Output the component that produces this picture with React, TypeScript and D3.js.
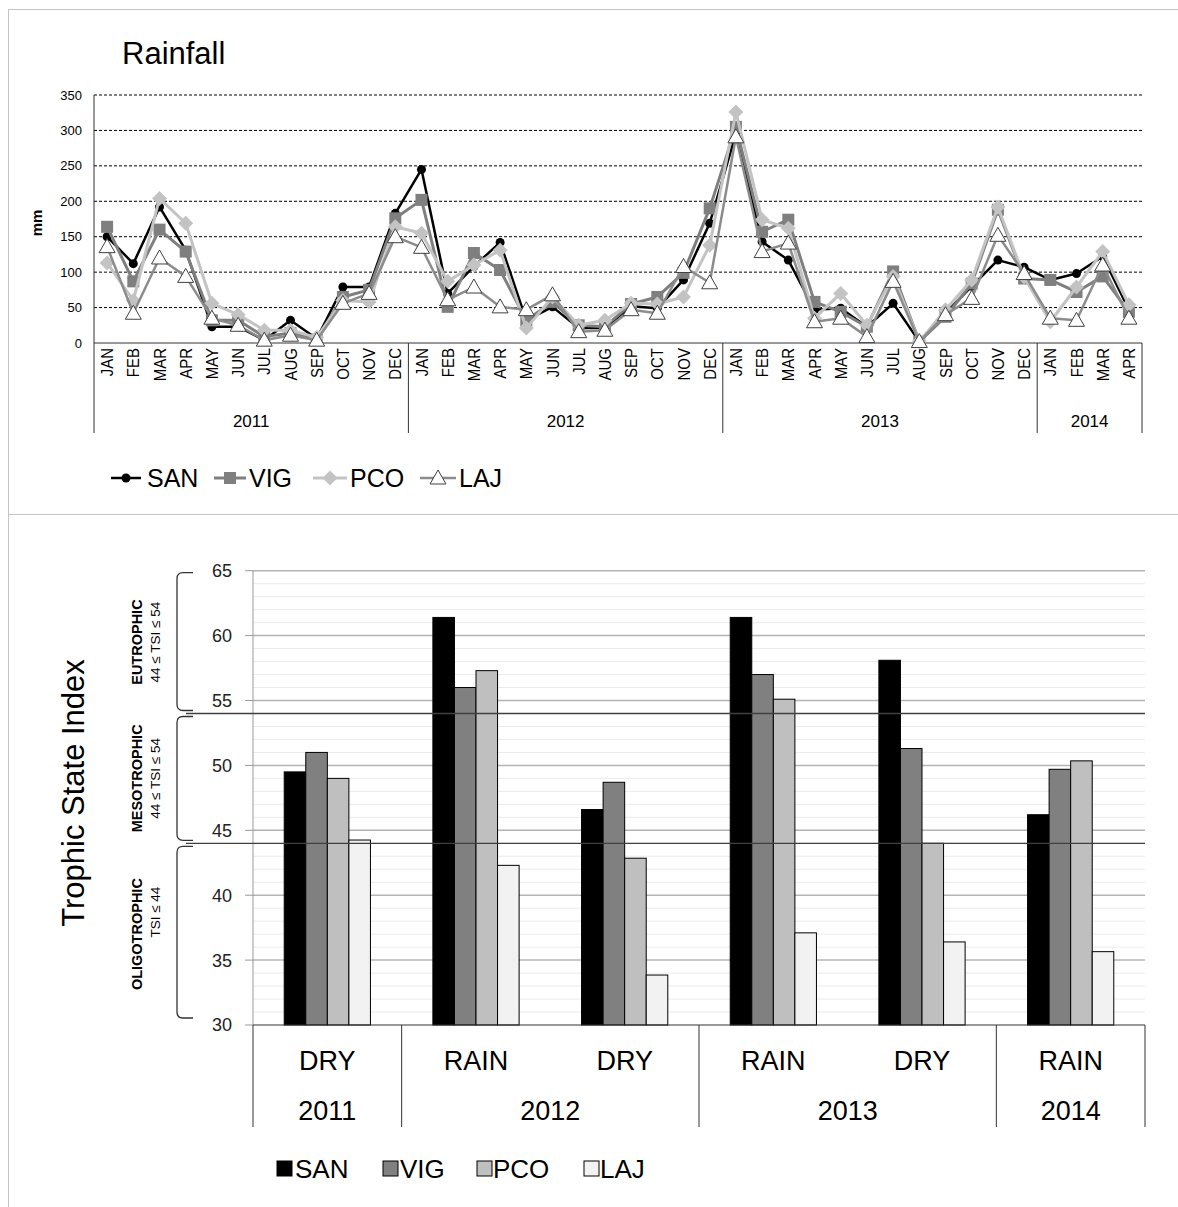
import React from "react";
import * as d3 from "d3";

// ---- Rainfall (monthly, mm) ----
const MONTHS = ["JAN", "FEB", "MAR", "APR", "MAY", "JUN", "JUL", "AUG", "SEP", "OCT", "NOV", "DEC"];
const RAIN_YEARS = ["2011", "2012", "2013", "2014"];
const MONTHS_PER_YEAR = [12, 12, 12, 4];
const RAIN_TICKS = [0, 50, 100, 150, 200, 250, 300, 350];

const SAN_RAIN = [150, 112, 192, 131, 23, 23, 4, 32, 6, 79, 79, 183,
  245, 70, 108, 142, 32, 51, 21, 21, 52, 49, 89, 169,
  295, 143, 117, 47, 49, 23, 56, 2, 42, 80, 117, 107,
  89, 98, 122, 47];
const VIG_RAIN = [164, 87, 160, 129, 32, 32, 9, 14, 5, 65, 75, 176,
  202, 51, 127, 103, 32, 58, 25, 23, 55, 65, 99, 190,
  305, 157, 174, 58, 44, 23, 101, 2, 37, 84, 188, 91,
  89, 72, 94, 44];
const PCO_RAIN = [113, 60, 204, 169, 56, 40, 18, 18, 8, 60, 58, 164,
  155, 87, 110, 131, 21, 65, 25, 32, 56, 55, 65, 138,
  326, 174, 162, 35, 70, 25, 94, 2, 47, 89, 192, 93,
  30, 79, 129, 54];
const LAJ_RAIN = [136, 42, 120, 94, 35, 25, 4, 11, 4, 56, 70, 150,
  135, 61, 79, 51, 47, 68, 16, 18, 47, 42, 108, 85,
  291, 129, 141, 30, 35, 9, 87, 2, 40, 63, 152, 98,
  35, 32, 110, 35];

// ---- Trophic State Index by campaign ----
const SEASONS = ["DRY", "RAIN", "DRY", "RAIN", "DRY", "RAIN"];
const TSI_YEARS = ["2011", "2012", "2013", "2014"];
const SEASONS_PER_YEAR = [1, 2, 2, 1];
const SAN_TSI = [49.5, 61.4, 46.6, 61.4, 58.1, 46.2];
const VIG_TSI = [51.0, 56.0, 48.7, 57.0, 51.3, 49.7];
const PCO_TSI = [49.0, 57.3, 42.85, 55.1, 44.0, 50.35];
const LAJ_TSI = [44.25, 42.3, 33.85, 37.1, 36.4, 35.65];
const TSI_TICKS = [30, 35, 40, 45, 50, 55, 60, 65];
const TSI_LIMITS = [44, 54];
const STATE_CLASSES = [
  { name: "EUTROPHIC", rule: "44 ≤ TSI ≤ 54", lo: 54, hi: 65 },
  { name: "MESOTROPHIC", rule: "44 ≤ TSI ≤ 54", lo: 44, hi: 54 },
  { name: "OLIGOTROPHIC", rule: "TSI ≤ 44", lo: 30, hi: 44 },
];

const STATIONS = ["SAN", "VIG", "PCO", "LAJ"];

const FONT = "Arial, 'Liberation Sans', Helvetica, sans-serif";

const lineStyles: Record<string, { stroke: string; width: number }> = {
  SAN: { stroke: "#000000", width: 2.5 },
  VIG: { stroke: "#7f7f7f", width: 3 },
  PCO: { stroke: "#c3c3c3", width: 3 },
  LAJ: { stroke: "#8c8c8c", width: 2.5 },
};
const barFills: Record<string, string> = {
  SAN: "#000000",
  VIG: "#808080",
  PCO: "#bfbfbf",
  LAJ: "#f2f2f2",
};

function Marker({ name, x, y }: { name: string; x: number; y: number }) {
  if (name === "SAN") return <circle cx={x} cy={y} r={4.5} fill="#000" />;
  if (name === "VIG") return <rect x={x - 6} y={y - 6} width={12} height={12} fill="#7f7f7f" />;
  if (name === "PCO")
    return <path d={`M${x},${y - 7.5}L${x + 7.5},${y}L${x},${y + 7.5}L${x - 7.5},${y}Z`} fill="#c3c3c3" />;
  return (
    <path
      d={`M${x},${y - 8}L${x + 8},${y + 6}L${x - 8},${y + 6}Z`}
      fill="#ffffff"
      stroke="#404040"
      strokeWidth={1}
    />
  );
}

function RainfallPanel() {
  const left = 94, right = 1142, top = 95, bottom = 343;
  const series: Record<string, number[]> = { SAN: SAN_RAIN, VIG: VIG_RAIN, PCO: PCO_RAIN, LAJ: LAJ_RAIN };
  const labels: string[] = [];
  MONTHS_PER_YEAR.forEach((n) => { for (let i = 0; i < n; i++) labels.push(MONTHS[i]); });
  const keys = labels.map((m, i) => `${i}`);

  const x = d3.scaleBand().domain(keys).range([left, right]).padding(0);
  const y = d3.scaleLinear().domain([0, 350]).range([bottom, top]);
  const cx = (i: number) => (x(`${i}`) as number) + x.bandwidth() / 2;
  const line = d3.line<number>().x((_, i) => cx(i)).y((d) => y(d));

  // year boundaries along the month axis
  const yearEdges: number[] = [left];
  let acc = 0;
  MONTHS_PER_YEAR.forEach((n) => { acc += n; yearEdges.push(acc === keys.length ? right : (x(`${acc}`) as number)); });

  const legendPos = [
    { name: "SAN", x1: 111, x2: 141, tx: 147 },
    { name: "VIG", x1: 214, x2: 246, tx: 249 },
    { name: "PCO", x1: 313, x2: 347, tx: 350 },
    { name: "LAJ", x1: 420, x2: 456, tx: 459 },
  ];

  return (
    <g>
      <text x={122} y={64} fontSize={31} fontFamily={FONT} fill="#000">Rainfall</text>
      {RAIN_TICKS.map((t) => (
        <g key={t}>
          {t > 0 && (
            <line x1={left} x2={right} y1={y(t)} y2={y(t)} stroke="#000" strokeWidth={1} strokeDasharray="3,2" />
          )}
          <text x={82} y={y(t)} dy="0.35em" textAnchor="end" fontSize={13} fontFamily={FONT} fill="#000">{t}</text>
        </g>
      ))}
      <text transform={`translate(42,${(top + bottom) / 2 + 4}) rotate(-90)`} textAnchor="middle" fontSize={15}
        fontWeight="bold" fontFamily={FONT}>mm</text>
      <line x1={left} x2={left} y1={top} y2={bottom} stroke="#333" />
      <line x1={left} x2={right} y1={bottom} y2={bottom} stroke="#333" />
      {yearEdges.map((e, i) => (
        <line key={i} x1={e} x2={e} y1={bottom} y2={433} stroke="#333" />
      ))}
      {labels.map((m, i) => (
        <text key={i} transform={`translate(${cx(i)},${bottom + 5}) scale(1.12,1) rotate(-90)`} dy="0.36em"
          textAnchor="end" fontSize={15} fontFamily={FONT} fill="#000">{m}</text>
      ))}
      {RAIN_YEARS.map((yr, i) => (
        <text key={yr} x={(yearEdges[i] + yearEdges[i + 1]) / 2} y={427} textAnchor="middle" fontSize={17}
          fontFamily={FONT}>{yr}</text>
      ))}
      {STATIONS.map((s) => (
        <g key={s}>
          <path d={line(series[s]) as string} fill="none" stroke={lineStyles[s].stroke}
            strokeWidth={lineStyles[s].width} strokeLinejoin="round" />
          {series[s].map((v, i) => <Marker key={i} name={s} x={cx(i)} y={y(v)} />)}
        </g>
      ))}
      {legendPos.map((l) => (
        <g key={l.name}>
          <line x1={l.x1} x2={l.x2} y1={478} y2={478} stroke={lineStyles[l.name].stroke}
            strokeWidth={lineStyles[l.name].width} />
          <Marker name={l.name} x={(l.x1 + l.x2) / 2} y={478} />
          <text x={l.tx} y={487} fontSize={25} fontFamily={FONT}>{l.name}</text>
        </g>
      ))}
    </g>
  );
}

function TsiPanel() {
  const left = 253, right = 1145, top = 570.7, bottom = 1025;
  const series: Record<string, number[]> = { SAN: SAN_TSI, VIG: VIG_TSI, PCO: PCO_TSI, LAJ: LAJ_TSI };
  const keys = SEASONS.map((_, i) => `${i}`);
  const x = d3.scaleBand().domain(keys).range([left, right]).paddingInner(0.42).paddingOuter(0.21);
  const xs = d3.scaleBand().domain(STATIONS).range([0, x.bandwidth()]).padding(0);
  const y = d3.scaleLinear().domain([30, 65]).range([bottom, top]);
  const step = x.step();
  const center = (i: number) => (x(`${i}`) as number) + x.bandwidth() / 2;

  const minor = d3.range(31, 65).filter((v) => v % 5 !== 0);
  const edges: number[] = [left];
  let acc = 0;
  SEASONS_PER_YEAR.forEach((n) => { acc += n; edges.push(left + step * acc); });

  const legendPos = [
    { name: "SAN", bx: 277, tx: 295 },
    { name: "VIG", bx: 383, tx: 400 },
    { name: "PCO", bx: 477, tx: 493 },
    { name: "LAJ", bx: 584, tx: 600 },
  ];

  const bracketX = 177;
  return (
    <g>
      {minor.map((v) => (
        <line key={v} x1={left} x2={right} y1={y(v)} y2={y(v)} stroke="#ebebeb" strokeWidth={1} />
      ))}
      {TSI_TICKS.map((t) => (
        <g key={t}>
          {t > 30 && <line x1={left} x2={right} y1={y(t)} y2={y(t)} stroke="#b4b4b4" strokeWidth={1.5} />}
          <line x1={left - 8} x2={left} y1={y(t)} y2={y(t)} stroke="#999" />
          <text x={232} y={y(t)} dy="0.36em" textAnchor="end" fontSize={18} fontFamily={FONT} fill="#222">{t}</text>
        </g>
      ))}
      <line x1={left} x2={left} y1={top} y2={bottom} stroke="#999" />
      {STATIONS.map((s) => (
        <g key={s}>
          {series[s].map((v, i) => (
            <rect key={i} x={(x(`${i}`) as number) + (xs(s) as number)} y={y(v)} width={xs.bandwidth()}
              height={bottom - y(v)} fill={barFills[s]} stroke="#000" strokeWidth={1} />
          ))}
        </g>
      ))}
      {TSI_LIMITS.map((v) => (
        <line key={v} x1={186} x2={right} y1={y(v)} y2={y(v)} stroke="#404040" strokeWidth={1.3} />
      ))}
      {STATE_CLASSES.map((c) => {
        const y1 = y(c.hi) + (c.hi === 65 ? 2 : 3);
        const y2 = y(c.lo) - (c.lo === 30 ? 7 : 3);
        const mid = (y(c.hi) + y(c.lo)) / 2;
        return (
          <g key={c.name}>
            <path
              d={`M${bracketX + 16},${y1} L${bracketX + 6},${y1} Q${bracketX},${y1} ${bracketX},${y1 + 6} L${bracketX},${y2 - 6} Q${bracketX},${y2} ${bracketX + 6},${y2} L${bracketX + 16},${y2}`}
              fill="none" stroke="#333" strokeWidth={1.3} />
            <text transform={`translate(142,${mid}) rotate(-90)`} textAnchor="middle" fontSize={14.5}
              fontWeight="bold" fontFamily={FONT}>{c.name}</text>
            <text transform={`translate(160,${c.lo === 30 ? mid - 22 : mid}) rotate(-90)`} textAnchor="middle"
              fontSize={13.5} fontFamily={FONT}>{c.rule}</text>
          </g>
        );
      })}
      <text transform={`translate(84,793) rotate(-90)`} textAnchor="middle" fontSize={31} fontFamily={FONT}>
        Trophic State Index
      </text>
      <line x1={left} x2={right} y1={bottom} y2={bottom} stroke="#333" />
      {edges.map((e, i) => (
        <line key={i} x1={e} x2={e} y1={bottom} y2={1127} stroke="#333" />
      ))}
      {SEASONS.map((s, i) => (
        <text key={i} x={center(i)} y={1070} textAnchor="middle" fontSize={27} fontFamily={FONT}>{s}</text>
      ))}
      {TSI_YEARS.map((yr, i) => (
        <text key={yr} x={(edges[i] + edges[i + 1]) / 2} y={1120} textAnchor="middle" fontSize={27}
          fontFamily={FONT}>{yr}</text>
      ))}
      {legendPos.map((l) => (
        <g key={l.name}>
          <rect x={l.bx} y={1161} width={15} height={15} fill={barFills[l.name]} stroke="#000" strokeWidth={1} />
          <text x={l.tx} y={1178} fontSize={26} fontFamily={FONT}>{l.name}</text>
        </g>
      ))}
    </g>
  );
}

export default function App() {
  return (
    <svg width={1178} height={1207} style={{ position: "absolute", left: 0, top: 0, background: "#fff" }}>
      <rect x={0} y={0} width={1178} height={1207} fill="#fff" />
      <line x1={8} x2={1178} y1={9.5} y2={9.5} stroke="#c4c4c4" />
      <line x1={8} x2={1178} y1={514.5} y2={514.5} stroke="#c4c4c4" />
      <line x1={8.5} x2={8.5} y1={9} y2={1207} stroke="#c4c4c4" />
      <RainfallPanel />
      <TsiPanel />
    </svg>
  );
}
